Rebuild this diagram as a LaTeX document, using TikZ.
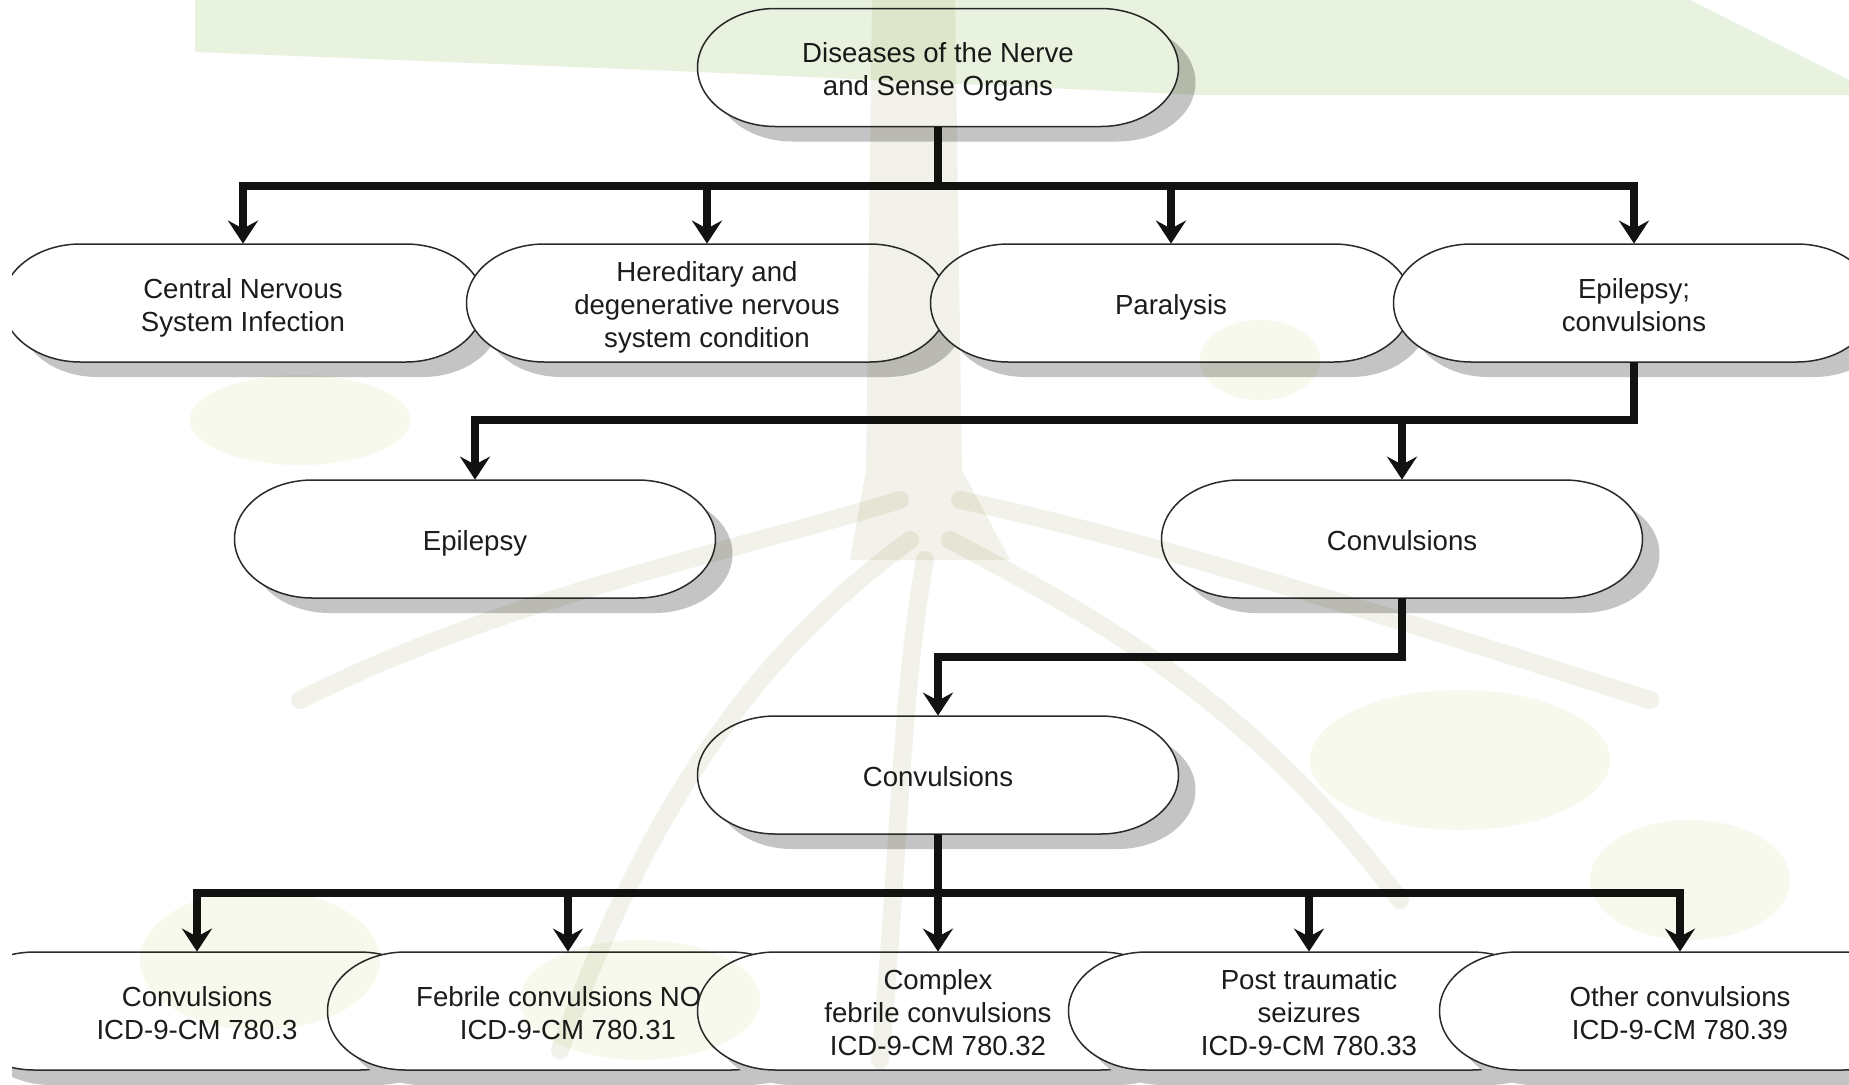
\documentclass[tikz,border=0pt]{standalone}
\usepackage{fontspec}
\setmainfont{Liberation Sans}
\usetikzlibrary{arrows.meta}

\definecolor{capline}{HTML}{2A2A2A}
\definecolor{capgray}{HTML}{C4C4C4}
\definecolor{linkc}{HTML}{121212}
\definecolor{textc}{HTML}{1C1C1C}
\definecolor{band}{RGB}{233,242,222}
\definecolor{leaf}{RGB}{246,249,236}
\definecolor{bark}{RGB}{242,242,234}

\newcommand\capfont{\fontsize{13.8pt}{16.5pt}\selectfont}
\def\cappath{(-162.5,59) -- (162.5,59) arc[start angle=90,end angle=-90,x radius=39pt,y radius=29.5pt] -- (-162.5,-59) arc[start angle=270,end angle=90,x radius=39pt,y radius=29.5pt] -- cycle}

\tikzset{
  capshade/.style={fill=capgray},
  capbody/.style={fill=white,draw=capline,line width=0.75pt},
  captext/.style={rectangle,minimum width=162.5pt,minimum height=59pt,inner sep=0pt,
    align=center,text=textc,font=\capfont},
  capsule/.pic={
    \fill[capshade,shift={(17,-15)}] \cappath;
    \filldraw[capbody] \cappath;
  },
  link/.style={draw=linkc,line width=3.6pt},
  bus/.style={link,line cap=rect},
  drop/.style={link,-{Stealth[length=11.5pt,width=15pt,inset=4pt]}},
}
\newcommand\capnode[3]{%
  \pic at (#2) {capsule};
  \node[captext] (#1) at (#2) {\rule{0pt}{15pt}#3\rule[-3.5pt]{0pt}{0pt}};
}

\begin{document}
\begin{tikzpicture}[x=0.5pt,y=0.5pt]
  \useasboundingbox (0,0) rectangle (1849,-1084);
  \fill[white] (0,0) rectangle (1849,-1084);
  \begin{scope}
    \clip (12,0) rectangle (1849,-1084);

    % first level
    \capnode{top}{938,-67.5}{Diseases of the Nerve\\and Sense Organs}

    % second level
    \capnode{cns}{243,-303}{Central Nervous\\System Infection}
    \capnode{her}{707,-303}{Hereditary and\\degenerative nervous\\system condition}
    \capnode{par}{1171,-303}{Paralysis}
    \capnode{epc}{1634,-303}{Epilepsy;\\convulsions}

    % third level
    \capnode{epi}{475,-539}{Epilepsy}
    \capnode{cnv}{1402,-539}{Convulsions}

    % fourth level
    \capnode{conv}{938,-775}{Convulsions}

    % codes
    \capnode{c1}{197,-1011}{Convulsions\\ICD-9-CM 780.3}
    \capnode{c2}{568,-1011}{Febrile convulsions NO\phantom{S}\\ICD-9-CM 780.31}
    \capnode{c3}{938,-1011}{Complex\\febrile convulsions\\ICD-9-CM 780.32}
    \capnode{c4}{1309,-1011}{Post traumatic\\seizures\\ICD-9-CM 780.33}
    \capnode{c5}{1680,-1011}{Other convulsions\\ICD-9-CM 780.39}

    % connectors
    \coordinate (b1) at (938,-186);
    \coordinate (b2) at (1634,-420);
    \coordinate (b3) at (1402,-657);
    \coordinate (b4) at (938,-893);

    \draw[link] (top.south) -- (b1);
    \draw[bus] (cns.north |- b1) -- (epc.north |- b1);
    \foreach \n in {cns,her,par,epc}
      \draw[drop] (\n.north |- b1) -- (\n.north);

    \draw[link] (epc.south) -- (b2);
    \draw[bus] (epi.north |- b2) -- (b2);
    \draw[drop] (epi.north |- b2) -- (epi.north);
    \draw[drop] (cnv.north |- b2) -- (cnv.north);

    \draw[drop] (cnv.south) -- (b3) -| (conv.north);

    \draw[link] (conv.south) -- (b4);
    \draw[bus] (c1.north |- b4) -- (c5.north |- b4);
    \foreach \n in {c1,c2,c3,c4,c5}
      \draw[drop] (\n.north |- b4) -- (\n.north);

    % faint tree behind the chart
    \begin{scope}[blend mode=multiply]
      \fill[band] (195,0) -- (1690,0) -- (1849,-80) -- (1849,-95) -- (1200,-95)
        -- (700,-72) -- (195,-52) -- cycle;
      \fill[bark] (872,0) -- (955,0) -- (962,-470) -- (1010,-560) -- (850,-560)
        -- (866,-470) -- cycle;
      \fill[leaf] (300,-420) ellipse (110 and 45);
      \fill[leaf] (1260,-360) ellipse (60 and 40);
      \fill[leaf] (260,-960) ellipse (120 and 70);
      \fill[leaf] (1460,-760) ellipse (150 and 70);
      \fill[leaf] (1690,-880) ellipse (100 and 60);
      \fill[leaf] (640,-1000) ellipse (120 and 60);
      \begin{scope}[bark,line width=9pt,line cap=round]
        \draw (900,-500) .. controls (700,-560) and (500,-600) .. (300,-700);
        \draw (910,-540) .. controls (760,-650) and (650,-800) .. (560,-1050);
        \draw (925,-560) .. controls (900,-700) and (900,-850) .. (880,-1060);
        \draw (950,-540) .. controls (1100,-620) and (1250,-700) .. (1400,-900);
        \draw (960,-500) .. controls (1150,-540) and (1400,-620) .. (1650,-700);
      \end{scope}
    \end{scope}
  \end{scope}
\end{tikzpicture}
\end{document}
